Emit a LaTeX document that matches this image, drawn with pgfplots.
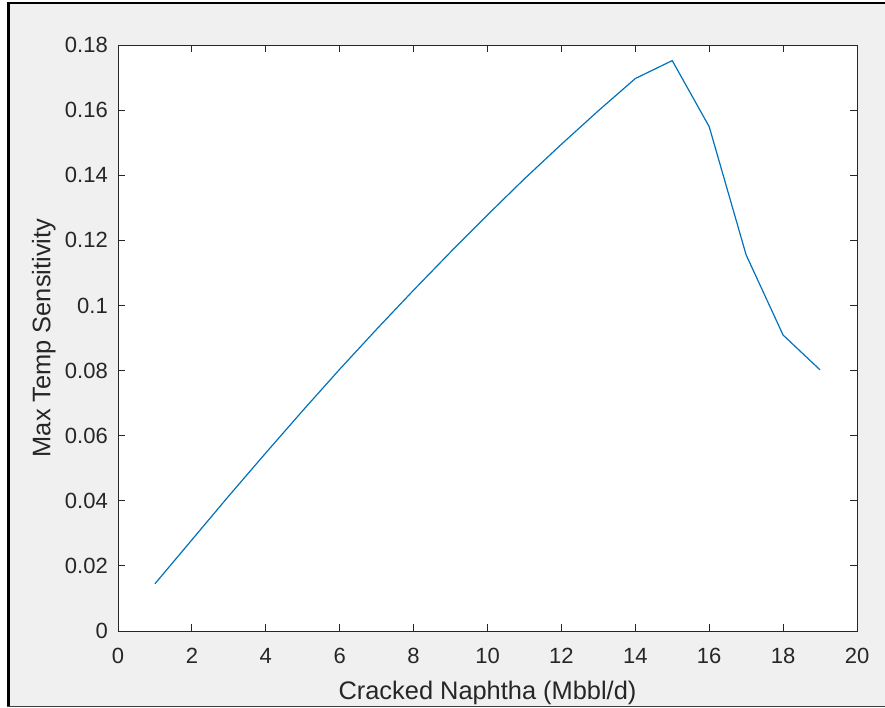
\documentclass[border=0pt]{standalone}
\usepackage{fontspec}
\setmainfont{Liberation Sans}
\usepackage{pgfplots}
\pgfplotsset{compat=1.18}

\definecolor{figbg}{HTML}{F0F0F0}
\definecolor{axgray}{HTML}{262626}
\definecolor{lineblue}{HTML}{0072BD}
\definecolor{framegray}{HTML}{3C3C3C}

\begin{document}
\begin{tikzpicture}[x=1pt,y=1pt]
  % window frame and figure background
  \useasboundingbox (-118,-77) rectangle (767,631);
  \fill[white] (-118,-77) rectangle (767,631);
  \fill[figbg] (-108,-75) rectangle (767,626.5);
  \fill[black] (-110.5,-75) rectangle (-108,628.5);
  \fill[black] (-110.5,626.5) rectangle (767,628.5);
  \fill[framegray] (-110.5,-76) rectangle (767,-75);

  \begin{axis}[
    at={(0,0)}, anchor=south west,
    scale only axis,
    width=739pt, height=586pt,
    xmin=0, xmax=20, ymin=0, ymax=0.18,
    xtick={0,2,4,6,8,10,12,14,16,18,20},
    ytick={0,0.02,0.04,0.06,0.08,0.1,0.12,0.14,0.16,0.18},
    yticklabels={0,0.02,0.04,0.06,0.08,0.1,0.12,0.14,0.16,0.18},
    scaled ticks=false,
    tick pos=both,
    tick align=inside,
    major tick length=7.4pt,
    axis background/.style={fill=white},
    axis line style={draw=axgray, line width=0.9pt},
    every tick/.style={draw=axgray, line width=0.9pt},
    tick label style={font=\fontsize{22}{26}\selectfont, text=axgray, inner sep=0pt},
    /pgf/number format/assume math mode=true,
    xticklabel style={anchor=north, yshift=-17pt},
    yticklabel style={anchor=east, xshift=-10pt},
    every axis x label/.style={at={(axis description cs:0.5,-0.11655)}, anchor=base,
      font=\fontsize{25.4}{30}\selectfont, text=axgray, inner sep=0pt},
    every axis y label/.style={at={(axis description cs:-0.09134,0.5)}, rotate=90, anchor=base,
      font=\fontsize{25.4}{30}\selectfont, text=axgray, inner sep=0pt},
    xlabel={Cracked Naphtha (Mbbl/d)},
    ylabel={Max Temp Sensitivity},
  ]
    \addplot[color=lineblue, line width=1.2pt, mark=none] coordinates {
      (1,0.0145) (2,0.0280) (3,0.0415) (4,0.0547) (5,0.0677)
      (6,0.0804) (7,0.0927) (8,0.1047) (9,0.1164) (10,0.1278)
      (11,0.1389) (12,0.1495) (13,0.1598) (14,0.1697) (15,0.1752)
      (16,0.1549) (17,0.1155) (18,0.0909) (19,0.0802)
    };
  \end{axis}
\end{tikzpicture}
\end{document}
